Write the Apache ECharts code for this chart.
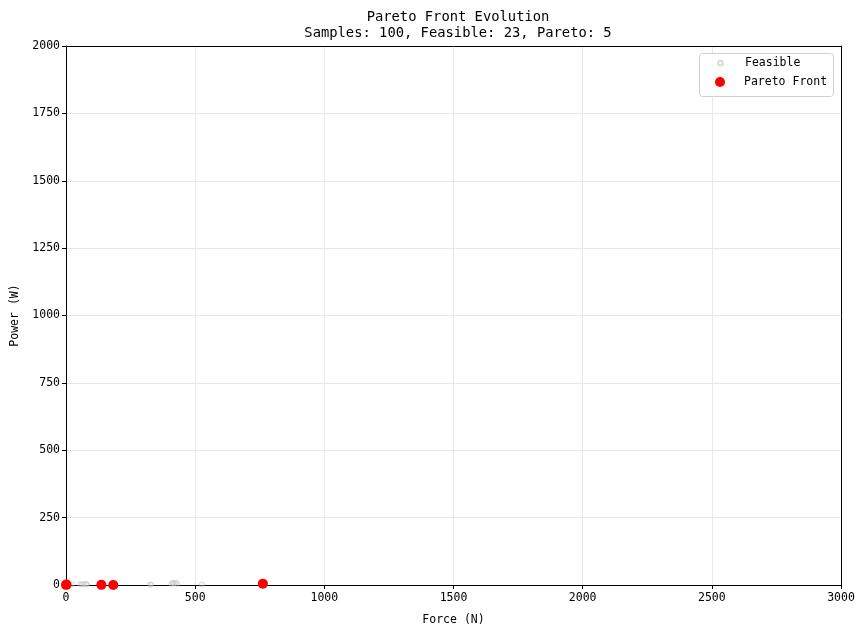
<!DOCTYPE html>
<html>
<head>
<meta charset="utf-8">
<script src="https://cdn.jsdelivr.net/npm/echarts@6/dist/echarts.min.js"></script>
<style>
  html, body { margin: 0; padding: 0; background: #ffffff; }
  #chart { width: 864px; height: 635px; }
</style>
</head>
<body>
<div id="chart"></div>
<script>
// feasible samples (force N, power W)
const feasibleForce = [0, 3, 23, 55, 62, 70, 78, 81, 137, 140, 183, 186, 325, 330, 408, 414, 418, 426, 430, 526, 762, 8, 180]
const feasiblePower = [1, 2, 2, 3, 2, 4, 3, 2, 1, 3, 1, 2, 2, 1, 5, 8, 6, 9, 4, 2, 5, 3, 2]

// pareto front subset
const paretoForce = [0, 2, 137, 183, 762]
const paretoPower = [0.5, 1.5, 0.5, 0.3, 5]

const xTicks = { min: 0, max: 3000, step: 500 }
const yTicks = { min: 0, max: 2000, step: 250 }

const font = 'DejaVu Sans Mono'

const chart = echarts.init(document.getElementById('chart'), null, { renderer: 'canvas' })

const axisCommon = {
  axisLine: { show: true, onZero: false, lineStyle: { color: '#000', width: 1 } },
  axisTick: { show: true, length: 4, lineStyle: { color: '#000' } },
  axisLabel: { color: '#000', fontFamily: font, fontSize: 11.5, margin: 6, formatter: v => String(v) },
  splitLine: { show: true, lineStyle: { color: '#e8e8e8', width: 1 } },
  nameTextStyle: { color: '#000', fontFamily: font, fontSize: 11.5 }
}

const frameAxis = {
  type: 'value',
  axisLine: { show: true, onZero: false, lineStyle: { color: '#000', width: 1 } },
  axisTick: { show: false },
  axisLabel: { show: false },
  splitLine: { show: false }
}

let options = {
  backgroundColor: '#ffffff',
  animation: false,
  title: {
    text: 'Pareto Front Evolution\nSamples: 100, Feasible: 23, Pareto: 5',
    left: 453,
    top: 4,
    textAlign: 'center',
    textStyle: {
      fontFamily: font,
      fontSize: 13.8,
      fontWeight: 'normal',
      color: '#000',
      lineHeight: 16
    }
  },
  grid: {
    left: 66,
    right: 23,
    top: 46,
    bottom: 50,
    containLabel: false,
    outerBoundsMode: 'none'
  },
  graphic: [{
    type: 'rect',
    right: 30,
    top: 53,
    shape: { width: 134, height: 43, r: 3 },
    style: { fill: '#fff', stroke: '#d0d0d0', lineWidth: 1 },
    z: 10
  }],
  legend: [{
    data: ['Feasible'],
    left: 717,
    top: 57,
    padding: 0,
    itemWidth: 5,
    itemHeight: 5,
    icon: 'circle',
    textStyle: { fontFamily: font, fontSize: 11.5, color: '#000', padding: [0, 0, 0, 17] },
    z: 11
  }, {
    data: ['Pareto Front'],
    left: 715,
    top: 76,
    padding: 0,
    itemWidth: 10,
    itemHeight: 10,
    icon: 'circle',
    textStyle: { fontFamily: font, fontSize: 11.5, color: '#000', padding: [0, 0, 0, 14] },
    z: 11
  }],
  xAxis: [Object.assign({}, axisCommon, {
    type: 'value',
    position: 'bottom',
    min: xTicks.min,
    max: xTicks.max,
    interval: xTicks.step,
    name: 'Force (N)',
    nameLocation: 'middle',
    nameGap: 29,
    axisLabel: Object.assign({}, axisCommon.axisLabel, { margin: 7 })
  }), Object.assign({}, frameAxis, { position: 'top', min: xTicks.min, max: xTicks.max })],
  yAxis: [Object.assign({}, axisCommon, {
    type: 'value',
    position: 'left',
    min: yTicks.min,
    max: yTicks.max,
    interval: yTicks.step,
    name: 'Power (W)',
    nameLocation: 'middle',
    nameGap: 43
  }), Object.assign({}, frameAxis, { position: 'right', min: yTicks.min, max: yTicks.max })],
  series: [{
    name: 'Feasible',
    type: 'scatter',
    symbol: 'circle',
    symbolSize: 5,
    data: feasibleForce.map((f, i) => [f, feasiblePower[i]]),
    itemStyle: {
      color: 'rgba(230,230,230,0.3)',
      borderColor: 'rgba(170,170,170,0.4)',
      borderWidth: 1,
      opacity: 1
    },
    z: 2
  }, {
    name: 'Pareto Front',
    type: 'scatter',
    symbol: 'circle',
    symbolSize: 10,
    data: paretoForce.map((f, i) => [f, paretoPower[i]]),
    itemStyle: { color: '#ff0000', opacity: 1 },
    z: 3
  }]
}
options && chart.setOption(options)
</script>
</body>
</html>
